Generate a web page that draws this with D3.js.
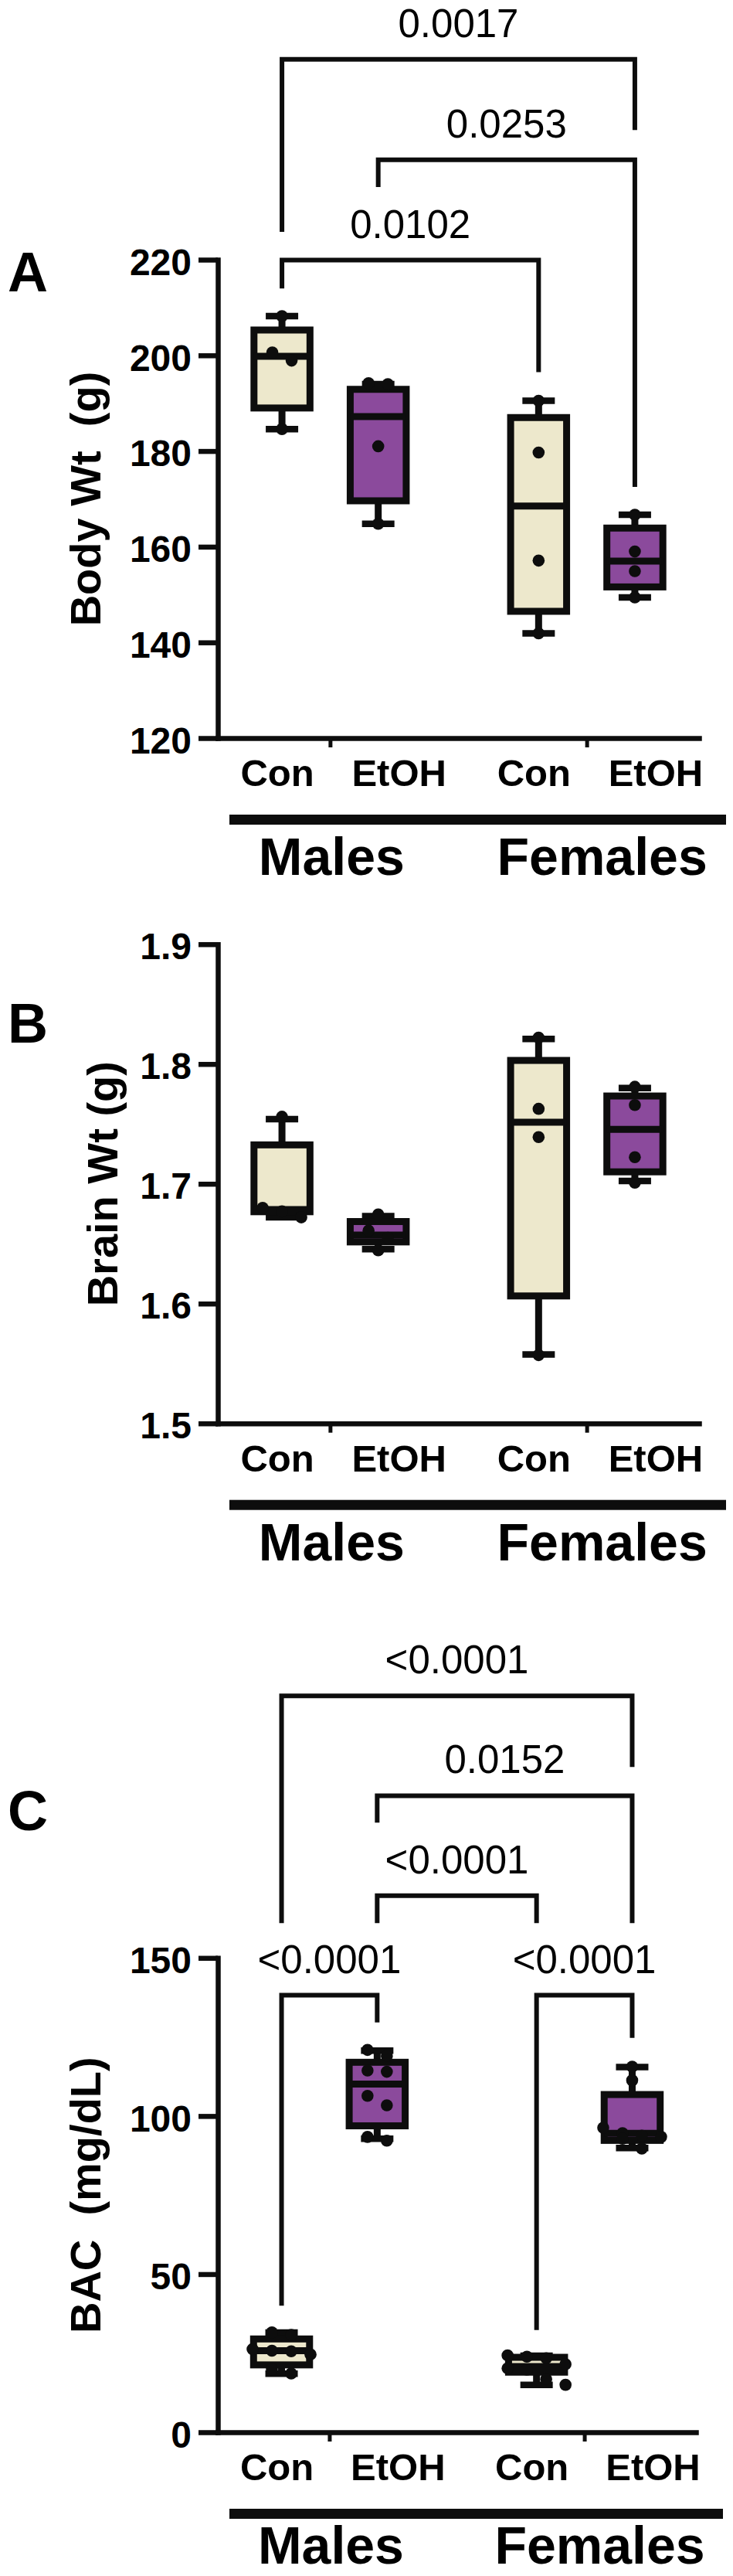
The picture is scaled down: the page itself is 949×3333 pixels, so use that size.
<!DOCTYPE html>
<html>
<head>
<meta charset="utf-8">
<script src="https://cdn.jsdelivr.net/npm/d3@7"></script>
<style>
  body { margin: 0; background: #fff; }
  svg { display: block; }
  text { font-family: "Liberation Sans", Arial, Helvetica, sans-serif; fill: #000; }
</style>
</head>
<body>
<div id="chart"></div>
<script>
// Groups and treatments (x categories, in order)
const groups = ["Males", "Females"];
const treatments = ["Con", "EtOH"];

// Panel A - body weight (g); boxes are [min, q1, median, q3, max]
const bodyTicks = [120, 140, 160, 180, 200, 220];
const bodyBoxes = [
  [184.6, 189.0, 199.8, 205.3, 208.2],
  [164.8, 169.6, 187.2, 192.9, 194.0],
  [141.9, 146.5, 168.5, 187.0, 190.5],
  [149.4, 151.6, 157.0, 163.9, 166.7]
];
const bodyPoints = [
  [208.2, 200.6, 198.9, 184.6],
  [194.2, 194.0, 181.0, 164.8],
  [190.5, 179.7, 157.1, 141.9],
  [166.7, 159.0, 154.9, 149.4]
];
const bodyPairs = [[0, 3], [1, 3], [0, 2]];
const bodyP = ["0.0017", "0.0253", "0.0102"];
const bodyBarAt = [261.9, 240.9, 219.9];
const bodyLegEnds = [[225.8, 247.1], [235.2, 172.5], [214.0, 196.5]];

// Panel B - brain weight (g)
const brainTicks = [1.5, 1.6, 1.7, 1.8, 1.9];
const brainBoxes = [
  [1.672, 1.6767, 1.6785, 1.7325, 1.754],
  [1.6455, 1.6515, 1.6573, 1.6685, 1.673],
  [1.5575, 1.6064, 1.7514, 1.803, 1.821],
  [1.7024, 1.710, 1.7454, 1.7733, 1.780]
];
const brainPoints = [
  [1.756, 1.680, 1.677, 1.672],
  [1.6745, 1.661, 1.655, 1.6445],
  [1.822, 1.7626, 1.739, 1.557],
  [1.781, 1.7658, 1.7222, 1.701]
];

// Panel C - blood alcohol (mg/dL)
const bacTicks = [0, 50, 100, 150];
const bacBoxes = [
  [18.5, 21.3, 25.8, 29.5, 31.5],
  [92.8, 96.9, 110.1, 117.0, 120.7],
  [15.0, 19.0, 20.8, 23.7, 24.2],
  [89.9, 92.3, 94.5, 106.8, 115.5]
];
const bacPoints = [
  [31.6, 30.8, 26.3, 25.8, 25.6, 24.6, 19.9, 18.6],
  [120.9, 119.0, 114.4, 114.0, 106.4, 103.4, 93.4, 92.2],
  [24.3, 23.9, 23.4, 21.5, 20.2, 19.8, 16.8, 15.0],
  [115.6, 111.3, 96.3, 94.6, 93.8, 93.4, 92.8, 89.7]
];
const bacPairs = [[0, 3], [1, 3], [1, 2], [0, 1], [2, 3]];
const bacP = ["<0.0001", "0.0152", "<0.0001", "<0.0001", "<0.0001"];
const bacBarAt = [232.9, 201.3, 169.7, 138.2, 138.2];
const bacLegEnds = [[161.0, 210.4], [192.8, 161.0], [161.0, 161.0], [40.0, 129.6], [32.3, 124.7]];

// Colours
const fillCon = "#ede8cc";
const fillEtoh = "#8b4a9c";
const ink = "#0d0d0d";

const svg = d3.select("#chart")
  .append("svg")
  .attr("width", 949)
  .attr("height", 3333);

// slot of each box on a 0..15 axis (two per group, gap between groups)
const slot = i => 2 + 8 * Math.floor(i / 2) + 3 * (i % 2);
const groupSlot = g => 3.5 + 8 * g;

// spread overlapping dots sideways, like a scatter column
function spread(values, y, r) {
  const pts = values.map(v => ({ v, py: y(v) })).sort((a, b) => a.py - b.py);
  const rows = [];
  pts.forEach(p => {
    const last = rows[rows.length - 1];
    if (last && p.py - last[last.length - 1].py < 2 * r && last.length < 4) last.push(p);
    else rows.push([p]);
  });
  rows.forEach(row => row.forEach((p, i) => { p.dx = (i - (row.length - 1) / 2) * 25; }));
  return pts;
}

function drawPanel(cfg) {
  const y = d3.scaleLinear().domain(cfg.domain).range(cfg.yRange);
  const x = d3.scaleLinear().domain([0, 15]).range(cfg.xRange);
  const y0 = cfg.yRange[0];
  const g = svg.append("g");

  // significance brackets
  (cfg.pairs || []).forEach((pair, k) => {
    const x1 = x(slot(pair[0])), x2 = x(slot(pair[1]));
    const yb = y(cfg.barAt[k]);
    g.append("path")
      .attr("d", `M${x1},${y(cfg.legEnds[k][0])}V${yb}H${x2}V${y(cfg.legEnds[k][1])}`)
      .attr("fill", "none")
      .attr("stroke", ink)
      .attr("stroke-width", 6);
    g.append("text")
      .attr("x", (x1 + x2) / 2)
      .attr("y", yb - 29)
      .attr("text-anchor", "middle")
      .style("font-size", "51px")
      .text(cfg.pvals[k]);
  });

  // boxes and whiskers
  const half = 36.25;
  cfg.boxes.forEach((b, i) => {
    const cx = x(slot(i));
    const [mn, q1, md, q3, mx] = b;
    const bg = g.append("g").attr("stroke", ink);
    bg.append("line").attr("x1", cx).attr("x2", cx).attr("y1", y(q3)).attr("y2", y(mx)).attr("stroke-width", 9);
    bg.append("line").attr("x1", cx).attr("x2", cx).attr("y1", y(q1)).attr("y2", y(mn)).attr("stroke-width", 9);
    [mn, mx].forEach(v => {
      bg.append("line").attr("x1", cx - 21).attr("x2", cx + 21).attr("y1", y(v)).attr("y2", y(v)).attr("stroke-width", 8.5);
    });
    bg.append("rect")
      .attr("x", cx - half)
      .attr("width", half * 2)
      .attr("y", y(q3))
      .attr("height", y(q1) - y(q3))
      .attr("fill", i % 2 === 0 ? fillCon : fillEtoh)
      .attr("stroke-width", 9);
    bg.append("line").attr("x1", cx - half).attr("x2", cx + half).attr("y1", y(md)).attr("y2", y(md)).attr("stroke-width", 9);

    // individual animals
    const r = 7.8;
    g.selectAll(null)
      .data(spread(cfg.points[i], y, r))
      .enter().append("circle")
      .attr("cx", d => cx + d.dx)
      .attr("cy", d => d.py)
      .attr("r", r)
      .attr("fill", ink);
  });

  // y axis
  const ya = g.append("g")
    .attr("transform", `translate(${cfg.xRange[0]},0)`)
    .call(d3.axisLeft(y).tickValues(cfg.ticks).tickSize(25).tickSizeOuter(0).tickPadding(9).tickFormat(cfg.fmt));
  ya.select(".domain").attr("stroke", ink).attr("stroke-width", 6.5).attr("stroke-linecap", "square");
  ya.selectAll(".tick line").attr("stroke", ink).attr("stroke-width", 6.5);
  ya.selectAll(".tick text")
    .attr("dy", "0.4em")
    .style("font-size", "48px")
    .style("font-weight", "bold")
    .attr("fill", "#000");

  // x axis
  const xa = g.append("g")
    .attr("transform", `translate(0,${y0})`)
    .call(d3.axisBottom(x).tickValues(groups.map((d, i) => groupSlot(i))).tickSize(12).tickSizeOuter(0).tickFormat(""));
  xa.select(".domain").attr("stroke", ink).attr("stroke-width", 6.5).attr("stroke-linecap", "square");
  xa.selectAll(".tick line").attr("stroke", ink).attr("stroke-width", 5);

  // treatment labels
  cfg.boxes.forEach((b, i) => {
    g.append("text")
      .attr("x", x(slot(i)) + (i % 2 === 0 ? -6 : 27))
      .attr("y", y0 + 62)
      .attr("text-anchor", "middle")
      .style("font-size", "49px")
      .style("font-weight", "bold")
      .text(treatments[i % 2]);
  });

  // group bar and labels
  g.append("rect")
    .attr("x", cfg.xRange[0] + 15)
    .attr("width", cfg.xRange[1] - cfg.xRange[0] + 20)
    .attr("y", y0 + 99)
    .attr("height", 13)
    .attr("fill", ink);
  groups.forEach((name, gi) => {
    g.append("text")
      .attr("x", x(groupSlot(gi)) + (gi === 0 ? 2 : 20))
      .attr("y", y0 + cfg.groupDy)
      .attr("text-anchor", "middle")
      .style("font-size", "68px")
      .style("font-weight", "bold")
      .text(name);
  });

  // y axis title
  g.append("text")
    .attr("transform", `translate(${cfg.titleX},${(cfg.yRange[0] + cfg.yRange[1]) / 2}) rotate(-90)`)
    .attr("text-anchor", "middle")
    .attr("xml:space", "preserve")
    .style("white-space", "pre")
    .style("font-size", "56px")
    .style("font-weight", "bold")
    .text(cfg.title);

  // panel letter
  g.append("text")
    .attr("x", 10)
    .attr("y", cfg.letterY)
    .style("font-size", "72px")
    .style("font-weight", "bold")
    .text(cfg.letter);
}

drawPanel({
  letter: "A", letterY: 377, title: "Body Wt  (g)", titleX: 130,
  domain: [120, 220], yRange: [955, 336], xRange: [282, 905], groupDy: 177,
  ticks: bodyTicks, fmt: d3.format("d"),
  boxes: bodyBoxes, points: bodyPoints,
  pairs: bodyPairs, pvals: bodyP, barAt: bodyBarAt, legEnds: bodyLegEnds
});

drawPanel({
  letter: "B", letterY: 1349, title: "Brain Wt (g)", titleX: 152,
  domain: [1.5, 1.9], yRange: [1841.7, 1221.7], xRange: [282, 905], groupDy: 177,
  ticks: brainTicks, fmt: d3.format(".1f"),
  boxes: brainBoxes, points: brainPoints
});

drawPanel({
  letter: "C", letterY: 2368, title: "BAC  (mg/dL)", titleX: 130,
  domain: [0, 150], yRange: [3147, 2533.3], xRange: [282, 901], groupDy: 170,
  ticks: bacTicks, fmt: d3.format("d"),
  boxes: bacBoxes, points: bacPoints,
  pairs: bacPairs, pvals: bacP, barAt: bacBarAt, legEnds: bacLegEnds
});
</script>
</body>
</html>
